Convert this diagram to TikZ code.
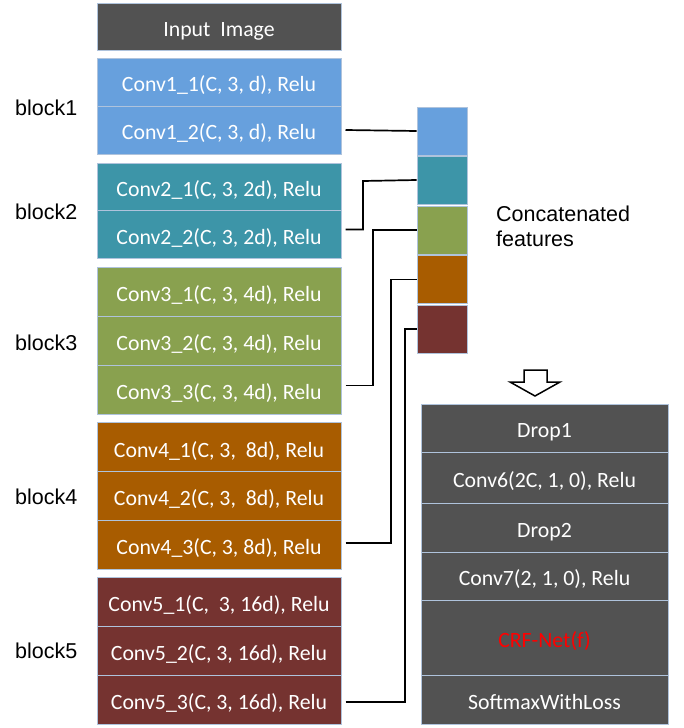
\documentclass[tikz,border=0pt]{standalone}
\usepackage{fontspec}
\setmainfont{Carlito}
\newfontfamily\arialf{Liberation Sans}
\definecolor{cblue}{HTML}{67A0DD}
\definecolor{cteal}{HTML}{3D95A8}
\definecolor{cgreen}{HTML}{89A14F}
\definecolor{corange}{HTML}{A85C00}
\definecolor{cmaroon}{HTML}{753330}
\definecolor{cgray}{HTML}{525252}
\definecolor{cedge}{HTML}{AFC3DC}
\begin{document}
\begin{tikzpicture}[x=1pt,y=-1pt,
  lbox/.style={draw=cedge, line width=1pt, minimum width=244pt, text=white, inner sep=0pt,
    text height=19.5pt, text depth=0pt, font=\fontsize{21.8}{25}\selectfont},
  rbox/.style={draw=cedge, line width=1pt, minimum width=247pt, fill=cgray, text=white, inner sep=0pt,
    text height=19.5pt, text depth=0pt, font=\fontsize{21.8}{25}\selectfont},
  sq/.style={draw=cedge, line width=0.8pt, minimum width=50pt, minimum height=48pt, inner sep=0pt},
  lbl/.style={font=\arialf\fontsize{21.5}{25}\selectfont, anchor=west, inner sep=0pt},
  conn/.style={draw=black, line width=1.7pt}]
\useasboundingbox (0,0) rectangle (683,728);

% left column
\node[lbox, fill=cgray, minimum height=47pt] (inp) at (219,26.5) {Input\ \ Image};
\node[lbox, fill=cblue, minimum height=48pt] (c11) at (219,82) {Conv1\_1(C, 3, d), Relu};
\node[lbox, fill=cblue, minimum height=48pt] (c12) at (219,130) {Conv1\_2(C, 3, d), Relu};
\node[lbox, fill=cteal, minimum height=47.5pt] (c21) at (219,187) {Conv2\_1(C, 3, 2d), Relu};
\node[lbox, fill=cteal, minimum height=47.5pt] (c22) at (219,234.5) {Conv2\_2(C, 3, 2d), Relu};
\node[lbox, fill=cgreen, minimum height=49pt] (c31) at (219,291.5) {Conv3\_1(C, 3, 4d), Relu};
\node[lbox, fill=cgreen, minimum height=49pt] (c32) at (219,340.5) {Conv3\_2(C, 3, 4d), Relu};
\node[lbox, fill=cgreen, minimum height=49pt] (c33) at (219,389.5) {Conv3\_3(C, 3, 4d), Relu};
\node[lbox, fill=corange, minimum height=48.7pt] (c41) at (219,447.3) {Conv4\_1(C, 3, \ 8d), Relu};
\node[lbox, fill=corange, minimum height=48.7pt] (c42) at (219,496) {Conv4\_2(C, 3, \ 8d), Relu};
\node[lbox, fill=corange, minimum height=48.7pt] (c43) at (219,544.7) {Conv4\_3(C, 3, 8d), Relu};
\node[lbox, fill=cmaroon, minimum height=49pt] (c51) at (219,601.5) {Conv5\_1(C, \ 3, 16d), Relu};
\node[lbox, fill=cmaroon, minimum height=49pt] (c52) at (219,650.5) {Conv5\_2(C, 3, 16d), Relu};
\node[lbox, fill=cmaroon, minimum height=49pt] (c53) at (219,699.5) {Conv5\_3(C, 3, 16d), Relu};

% block labels
\node[lbl] (b1) at (15,108) {block1};
\node[lbl] (b2) at (15,212) {block2};
\node[lbl] (b3) at (15,343) {block3};
\node[lbl] (b4) at (15,497) {block4};
\node[lbl] (b5) at (15,651) {block5};

% concatenated squares
\node[sq, fill=cblue] (f1) at (442,131) {};
\node[sq, fill=cteal] (f2) at (442,180) {};
\node[sq, fill=cgreen] (f3) at (442,230) {};
\node[sq, fill=corange] (f4) at (442,279.5) {};
\node[sq, fill=cmaroon] (f5) at (442,329) {};
\node[lbl, align=left] (cf) at (496,226) {Concatenated\\features};

% connectors
\draw[conn] ([xshift=4pt]c12.east) -- (f1.west);
\draw[conn] ([xshift=4pt,yshift=5pt]c22.east) -| (363,181) -- (f2.west);
\draw[conn] ([xshift=4pt,yshift=4pt]c33.east) -| (373,230) -- (f3.west);
\draw[conn] ([xshift=4pt,yshift=2pt]c43.east) -| (391,279.5) -- (f4.west);
\draw[conn] ([xshift=4pt,yshift=-2.5pt]c53.east) -| (405,329) -- (f5.west);

% hollow arrow
\draw[line width=1.5pt, fill=white, line join=miter]
  (524,370) -- (547,370) -- (547,382) -- (560,382) -- (535,396) -- (510,382) -- (524,382) -- cycle;

% right column
\node[rbox, minimum height=48pt] (d1) at (544.5,428) {Drop1};
\node[rbox, minimum height=51pt] (cv6) at (544.5,477.5) {Conv6(2C, 1, 0), Relu};
\node[rbox, minimum height=49pt] (d2) at (544.5,527.5) {Drop2};
\node[rbox, minimum height=48pt] (cv7) at (544.5,576) {Conv7(2, 1, 0), Relu};
\node[rbox, minimum height=75pt, text=red] (crf) at (544.5,637.5) {CRF-Net(f)};
\node[rbox, minimum height=49pt] (sm) at (544.5,699.5) {SoftmaxWithLoss};
\end{tikzpicture}
\end{document}
